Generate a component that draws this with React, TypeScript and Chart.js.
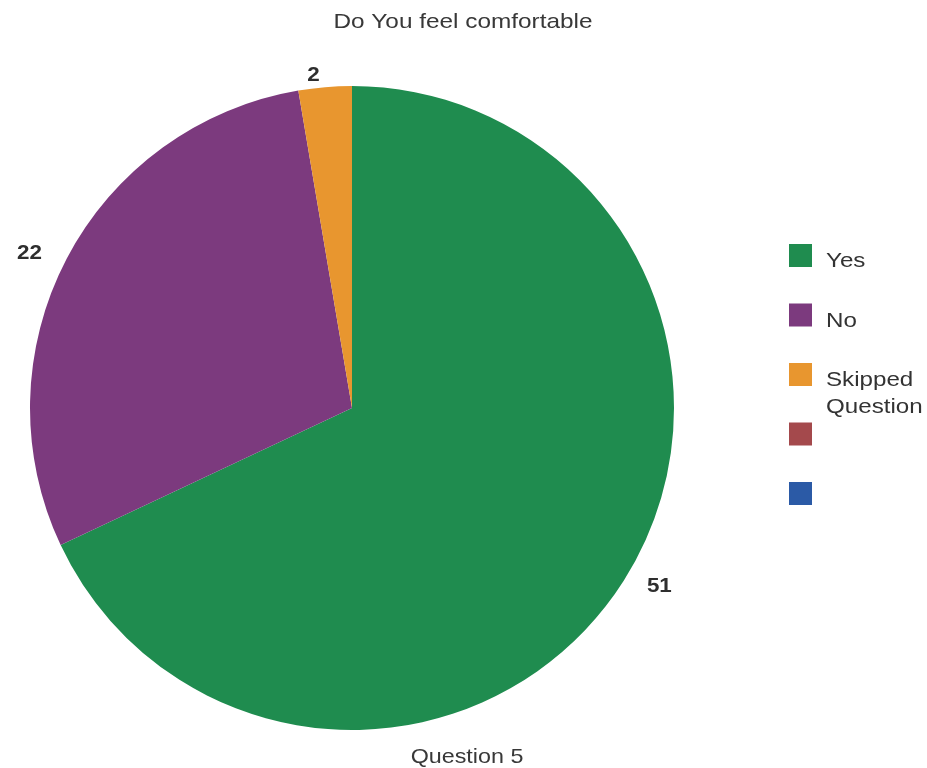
import React, { useEffect, useRef } from "react";
import { Chart, registerables } from "chart.js";

Chart.register(...registerables);

const chartTitle = "Do You feel comfortable";
const axisCaption = "Question 5";
const categories = ["Yes", "No", "Skipped\nQuestion", "", ""];
const values = [51, 22, 2, 0, 0];
const colors = ["#1f8c4f", "#7c3a7e", "#e8962f", "#a4494c", "#2b5aa6"];

const FONT = "'Liberation Sans', Arial, sans-serif";

function stretchText(ctx: CanvasRenderingContext2D, text: string, x: number, y: number, sx: number) {
  ctx.save();
  ctx.translate(x, y);
  ctx.scale(sx, 1);
  ctx.fillText(text, 0, 0);
  ctx.restore();
}

const textPlugin = {
  id: "customText",
  afterDraw(chart: any) {
    const ctx = chart.ctx as CanvasRenderingContext2D;
    ctx.save();
    ctx.fillStyle = "#383838";
    ctx.font = `21px ${FONT}`;
    ctx.textAlign = "center";
    ctx.textBaseline = "middle";
    stretchText(ctx, chartTitle, 463, 22, 1.16);
    stretchText(ctx, axisCaption, 467, 757, 1.11);

    // Value labels outside each slice
    const meta = chart.getDatasetMeta(0);
    ctx.font = `bold 20px ${FONT}`;
    ctx.fillStyle = "#2e2e2e";
    meta.data.forEach((arc: any, i: number) => {
      const v = values[i];
      if (!v) return;
      const p = arc.getProps(["x", "y", "startAngle", "endAngle", "outerRadius"], true);
      const mid = (p.startAngle + p.endAngle) / 2;
      const rx = p.outerRadius + 42;
      const ry = p.outerRadius + 12;
      const lx = p.x + Math.cos(mid) * rx + (Math.abs(Math.cos(mid)) < 0.2 ? -8 : 0);
      stretchText(ctx, String(v), lx, p.y + Math.sin(mid) * ry, 1.12);
    });

    // Legend
    const boxX = 789;
    const boxSize = 23;
    const top0 = 244;
    const step = 59.5;
    ctx.font = `21px ${FONT}`;
    ctx.textAlign = "left";
    categories.forEach((label, i) => {
      const y = top0 + i * step;
      ctx.fillStyle = colors[i];
      ctx.fillRect(boxX, y, boxSize, boxSize);
      ctx.fillStyle = "#333333";
      label.split("\n").forEach((line, j) => {
        stretchText(ctx, line, 826, y + boxSize / 2 + 6 + j * 27, 1.15);
      });
    });
    ctx.restore();
  },
};

export default function App() {
  const ref = useRef<HTMLCanvasElement>(null);
  useEffect(() => {
    document.body.style.margin = "0";
    const chart = new Chart(ref.current!, {
      type: "pie",
      data: {
        labels: categories,
        datasets: [
          {
            data: values,
            backgroundColor: colors,
            borderWidth: 0,
          },
        ],
      },
      options: {
        animation: false,
        responsive: false,
        maintainAspectRatio: false,
        layout: { padding: { top: 86, bottom: 38, left: 28, right: 251 } },
        plugins: {
          legend: { display: false },
          title: { display: false },
          tooltip: { enabled: false },
        },
      },
      plugins: [textPlugin],
    });
    return () => chart.destroy();
  }, []);
  return (
    <div style={{ width: 927, height: 768, background: "#ffffff" }}>
      <canvas ref={ref} width={927} height={768} style={{ display: "block" }} />
    </div>
  );
}
